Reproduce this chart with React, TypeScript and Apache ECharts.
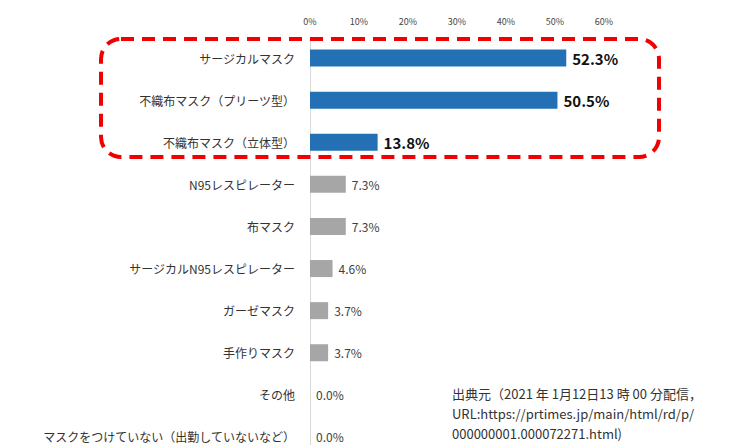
import React, { useEffect, useRef } from "react";
import * as echarts from "echarts";

const categories = [
  "サージカルマスク",
  "不織布マスク（プリーツ型）",
  "不織布マスク（立体型）",
  "N95レスピレーター",
  "布マスク",
  "サージカルN95レスピレーター",
  "ガーゼマスク",
  "手作りマスク",
  "その他",
  "マスクをつけていない（出勤していないなど）",
];
const values = [52.3, 50.5, 13.8, 7.3, 7.3, 4.6, 3.7, 3.7, 0.0, 0.0];
const highlightCount = 3;
const sourceLines = [
  "出典元（2021 年 1月12日13 時 00 分配信，",
  "URL:https://prtimes.jp/main/html/rd/p/",
  "000000001.000072271.html)",
];

const FONT = "'Noto Sans CJK JP', 'Noto Sans', sans-serif";

export default function App() {
  const ref = useRef<HTMLDivElement>(null);
  useEffect(() => {
    if (!ref.current) return;
    const chart = echarts.init(ref.current, undefined, { renderer: "svg" });
    const data = values.map((v, i) => {
      const hi = i < highlightCount;
      return {
        value: v,
        itemStyle: { color: hi ? "#2470B5" : "#A6A6A6" },
        label: hi
          ? { fontSize: 15, fontWeight: "bold", color: "#111" }
          : { fontSize: 12, fontWeight: "normal", color: "#404040" },
      };
    });
    chart.setOption({
      animation: false,
      backgroundColor: "#ffffff",
      textStyle: { fontFamily: FONT },
      grid: { left: 310, width: 294, top: 37, height: 421, containLabel: false },
      xAxis: {
        type: "value",
        position: "top",
        min: 0,
        max: 60,
        interval: 10,
        axisLabel: { formatter: "{value}%", fontSize: 9, color: "#444", margin: 11, fontFamily: FONT },
        axisLine: { show: false },
        axisTick: { show: false },
        splitLine: { show: false },
      },
      yAxis: {
        type: "category",
        inverse: true,
        data: categories,
        axisLine: { show: true, lineStyle: { color: "#D9D9D9", width: 1 } },
        axisTick: { show: false },
        axisLabel: { fontSize: 12, color: "#333", margin: 15, fontFamily: FONT },
      },
      series: [
        {
          type: "bar",
          data,
          barWidth: 17,
          label: {
            show: true,
            position: "right",
            distance: 6,
            formatter: (p: any) => Number(p.value).toFixed(1) + "%",
            fontFamily: FONT,
          },
        },
      ],
      graphic: [
        {
          type: "rect",
          shape: { x: 101, y: 39, width: 558, height: 118, r: 20 },
          style: { fill: "none", stroke: "#F00000", lineWidth: 4, lineDash: [13, 8] },
          z: 10,
        },
        ...sourceLines.map((t, i) => ({
          type: "text",
          left: 452,
          top: 387 + i * 20,
          style: { text: t, fontSize: 13, fill: "#333", fontFamily: FONT },
        })),
      ],
    });
    return () => chart.dispose();
  }, []);
  return (
    <div
      ref={ref}
      style={{ position: "fixed", left: 0, top: 0, width: 739, height: 470, background: "#fff" }}
    />
  );
}
